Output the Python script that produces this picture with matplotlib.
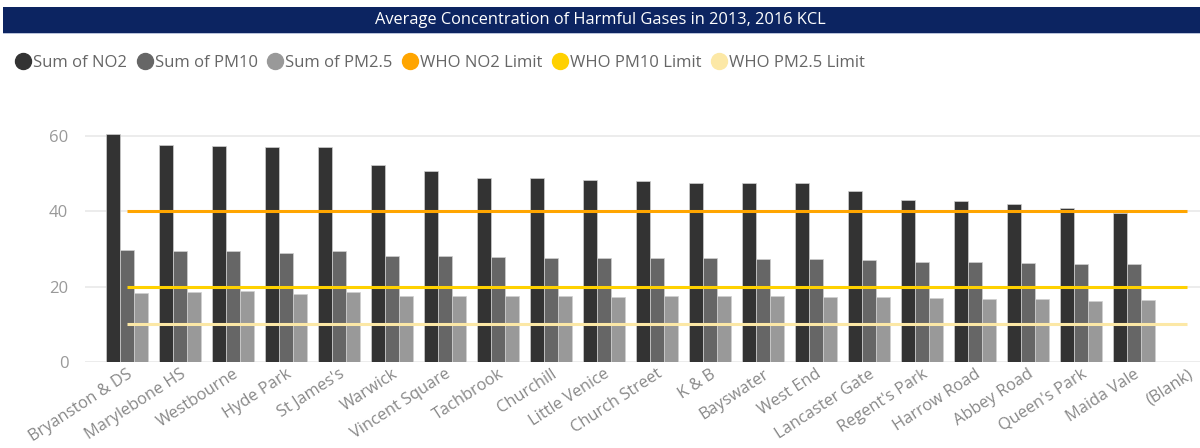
import numpy as np
import matplotlib
matplotlib.use("Agg")
import matplotlib.pyplot as plt
from matplotlib.patches import Rectangle
from matplotlib.lines import Line2D

plt.rcParams['font.family'] = ['Open Sans', 'DejaVu Sans']

wards = ["Bryanston & DS", "Marylebone HS", "Westbourne", "Hyde Park", "St James's",
         "Warwick", "Vincent Square", "Tachbrook", "Churchill", "Little Venice",
         "Church Street", "K & B", "Bayswater", "West End", "Lancaster Gate",
         "Regent's Park", "Harrow Road", "Abbey Road", "Queen's Park", "Maida Vale",
         "(Blank)"]
no2 = [60.6, 57.7, 57.3, 57.1, 57.1, 52.4, 50.7, 48.9, 48.8, 48.2,
       48.1, 47.6, 47.4, 47.4, 45.4, 43.1, 42.7, 42.0, 40.8, 39.6, np.nan]
pm10 = [29.7, 29.5, 29.6, 28.9, 29.4, 28.1, 28.1, 27.8, 27.6, 27.6,
        27.6, 27.6, 27.4, 27.4, 27.1, 26.6, 26.5, 26.2, 25.9, 25.9, np.nan]
pm25 = [18.4, 18.5, 18.8, 18.1, 18.5, 17.5, 17.6, 17.4, 17.4, 17.3,
        17.4, 17.4, 17.4, 17.3, 17.2, 17.0, 16.6, 16.6, 16.3, 16.5, np.nan]
who_no2 = 40
who_pm10 = 20
who_pm25 = 10
yticks = [0, 20, 40, 60]

c_no2, c_pm10, c_pm25 = "#333333", "#666666", "#999999"
c_l_no2, c_l_pm10, c_l_pm25 = "#FFA500", "#FFD100", "#FCE8A6"

fig = plt.figure(figsize=(12, 4.48), dpi=100)
fig.patch.set_facecolor("white")

# header band
fig.patches.append(Rectangle((3 / 1200, 1 - 33 / 448), 1, 26 / 448,
                             transform=fig.transFigure, facecolor="#0C2461",
                             edgecolor="none", zorder=0))
fig.patches.append(Rectangle((3 / 1200, 1 - 34 / 448), 1, 1.2 / 448,
                             transform=fig.transFigure, facecolor="#B8C2DA",
                             edgecolor="none", zorder=0))
fig.text(0.5, 1 - 20 / 448, "Average Concentration of Harmful Gases in 2013, 2016 KCL",
         color="white", ha="center", va="center", fontsize=11.8)

ax = fig.add_axes([85 / 1200, 86 / 448, 1 - 85 / 1200, 237.3 / 448])
x = np.arange(len(wards))
w = 0.264
edge = dict(edgecolor="#d0d0d0", linewidth=0.5)
ax.bar(x - w, no2, w, color=c_no2, zorder=2, **edge)
ax.bar(x, pm10, w, color=c_pm10, zorder=2, **edge)
ax.bar(x + w, pm25, w, color=c_pm25, zorder=2, **edge)

xl = [x[0], x[-1]]
ax.plot(xl, [who_no2] * 2, color=c_l_no2, lw=2.2, zorder=3, solid_capstyle="butt")
ax.plot(xl, [who_pm10] * 2, color=c_l_pm10, lw=2.2, zorder=3, solid_capstyle="butt")
ax.plot(xl, [who_pm25] * 2, color=c_l_pm25, lw=2.2, zorder=3, solid_capstyle="butt")

ax.set_xlim(-0.79, 20.25)
ax.set_ylim(0, 63)
ax.set_yticks(yticks)
ax.yaxis.grid(True, color="#e9e9e9", lw=1.2, zorder=0)
ax.set_axisbelow(True)
for s in ax.spines.values():
    s.set_visible(False)
ax.tick_params(axis="y", length=0, colors="#999999", labelsize=12, pad=12)
ax.tick_params(axis="x", length=0, colors="#888888", labelsize=11.8, pad=3)
ax.set_xticks(x)
ax.set_xticklabels(wards, rotation=33, ha="right", rotation_mode="anchor")

handles = [Line2D([], [], marker="o", ls="none", ms=11.5, mfc=c, mec=c)
           for c in [c_no2, c_pm10, c_pm25, c_l_no2, c_l_pm10, c_l_pm25]]
labels = ["Sum of NO2", "Sum of PM10", "Sum of PM2.5",
          "WHO NO2 Limit", "WHO PM10 Limit", "WHO PM2.5 Limit"]
leg = fig.legend(handles, labels, loc="center left",
                 bbox_to_anchor=(15 / 1200, 1 - 63 / 448),
                 ncol=6, frameon=False, handletextpad=0.1, columnspacing=0.55,
                 handlelength=1.0, fontsize=12, borderaxespad=0, borderpad=0)
for t in leg.get_texts():
    t.set_color("#666666")

fig.savefig("out.png", dpi=100)
